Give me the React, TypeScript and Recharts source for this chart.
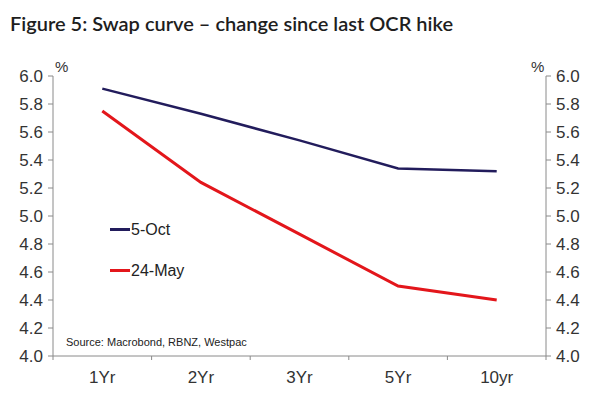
import { LineChart, Line, XAxis, YAxis } from 'recharts'

const tenors = ['1Yr', '2Yr', '3Yr', '5Yr', '10yr']
const oct5 = [5.91, 5.73, 5.54, 5.34, 5.32]
const may24 = [5.75, 5.24, 4.87, 4.5, 4.4]
const yTicks = [4.0, 4.2, 4.4, 4.6, 4.8, 5.0, 5.2, 5.4, 5.6, 5.8, 6.0]

const data = tenors.map((t, i) => ({ tenor: t, oct: oct5[i], may: may24[i] }))

const NAVY = '#221c5c'
const RED = '#e3161b'
const AXIS = '#8a8a8a'
const FONT = '"Liberation Sans", Arial, sans-serif'

function XTick(props: any) {
  const { x, y, payload, index } = props
  const half = payload.offset || 0
  const last = index === tenors.length - 1
  return (
    <g>
      <line x1={x - half} x2={x - half} y1={y - 8} y2={y - 4} stroke={AXIS} />
      {last && <line x1={x + half} x2={x + half} y1={y - 8} y2={y - 4} stroke={AXIS} />}
      <text x={x} y={y + 19} textAnchor="middle" fontSize={17} fill="#333" fontFamily={FONT}>
        {payload.value}
      </text>
    </g>
  )
}

const legendItems = [
  { name: '5-Oct', color: NAVY },
  { name: '24-May', color: RED },
]

export default function App() {
  return (
    <div style={{ position: 'absolute', left: 0, top: 0, width: 600, height: 412, background: '#fff' }}>
      <div style={{
        position: 'absolute', left: 10, top: 11, fontFamily: 'Lato, sans-serif',
        fontSize: 20, fontWeight: 600, color: '#1e1e1e', whiteSpace: 'nowrap',
      }}>
        Figure 5: Swap curve – change since last OCR hike
      </div>
      <LineChart width={600} height={412} data={data} margin={{ top: 76, right: 0, left: 0, bottom: 26 }}>
        <XAxis
          dataKey="tenor"
          scale="band"
          height={30}
          axisLine={{ stroke: AXIS }}
          tickLine={false}
          tick={<XTick />}
          interval={0}
        />
        <YAxis
          yAxisId="left"
          width={53}
          domain={[4, 6]}
          allowDataOverflow
          ticks={yTicks}
          tickFormatter={(v: number) => v.toFixed(1)}
          axisLine={{ stroke: AXIS }}
          tickLine={{ stroke: AXIS }}
          tickSize={5}
          tickMargin={5}
          tick={{ fontSize: 17, fill: '#333', fontFamily: FONT }}
          interval={0}
        />
        <YAxis
          yAxisId="right"
          orientation="right"
          width={54}
          domain={[4, 6]}
          allowDataOverflow
          ticks={yTicks}
          tickFormatter={(v: number) => v.toFixed(1)}
          axisLine={{ stroke: AXIS }}
          tickLine={{ stroke: AXIS }}
          tickSize={5}
          tickMargin={5}
          tick={{ fontSize: 17, fill: '#333', fontFamily: FONT }}
          interval={0}
        />
        <Line yAxisId="left" dataKey="oct" name="5-Oct" stroke={NAVY} strokeWidth={2.5} dot={false} isAnimationActive={false} />
        <Line yAxisId="left" dataKey="may" name="24-May" stroke={RED} strokeWidth={3} dot={false} isAnimationActive={false} />
      </LineChart>
      <div style={{ position: 'absolute', left: 55, top: 58, fontFamily: FONT, fontSize: 15, color: '#333' }}>%</div>
      <div style={{ position: 'absolute', left: 531, top: 58, fontFamily: FONT, fontSize: 15, color: '#333' }}>%</div>
      <div style={{ position: 'absolute', left: 66, top: 336, fontFamily: FONT, fontSize: 11, color: '#222' }}>
        Source: Macrobond, RBNZ, Westpac
      </div>
      <div style={{ position: 'absolute', left: 110, top: 209, fontFamily: FONT, fontSize: 16, color: '#222' }}>
        {legendItems.map((it) => (
          <div key={it.name} style={{ display: 'flex', alignItems: 'center', height: 41 }}>
            <span style={{ display: 'inline-block', width: 20, height: 3, background: it.color, marginRight: 1 }} />
            {it.name}
          </div>
        ))}
      </div>
    </div>
  )
}
